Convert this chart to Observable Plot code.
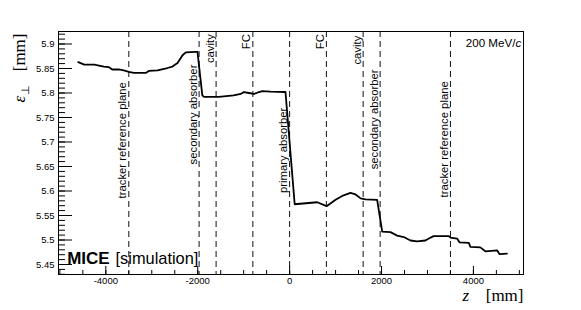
<!DOCTYPE html>
<html><head><meta charset="utf-8">
<script src="https://cdn.jsdelivr.net/npm/d3@7"></script>
<script src="https://cdn.jsdelivr.net/npm/@observablehq/plot@0.6"></script>
<style>body{margin:0;background:#fff}#chart{width:581px;height:310px}</style>
</head><body><div id="chart"></div>
<script>
// emittance along the beamline (z in mm, emittance in mm)
const zPos = [-4600,-4470,-4250,-4150,-4040,-3940,-3860,-3720,-3610,-3500,-3390,-3130,-3065,-2875,-2660,-2550,-2440,-2330,-2260,-2040,-2005,
  -1900,-1860,-1540,-1220,-1065,-995,-885,-775,-665,-595,-415,-90,
  110,600,805,1000,1145,1325,1435,1545,1650,1905,
  2015,2195,2340,2485,2630,2775,2955,3030,3135,3465,3500,3645,3700,3900,3935,4150,4260,4515,4570,4730];
const emittance = [5.863,5.858,5.858,5.856,5.854,5.853,5.848,5.848,5.846,5.843,5.841,5.841,5.845,5.846,5.851,5.854,5.861,5.877,5.883,5.884,5.884,
  5.795,5.792,5.792,5.795,5.798,5.802,5.800,5.798,5.802,5.804,5.803,5.802,
  5.573,5.577,5.569,5.582,5.590,5.596,5.593,5.585,5.583,5.582,
  5.517,5.516,5.509,5.506,5.499,5.497,5.499,5.503,5.508,5.508,5.505,5.503,5.495,5.494,5.486,5.485,5.477,5.479,5.471,5.472];

// element positions and labels
const markerZ = [-3500,-1970,-1600,-800,0,800,1600,1970,3500];
const markerLabel = ["tracker reference plane","secondary absorber","cavity","FC","primary absorber","FC","cavity","secondary absorber","tracker reference plane"];
const markerLabelTop = [5.822,5.858,5.920,5.920,5.770,5.920,5.917,5.848,5.824];

// ticks
const xMajor = [-4000,-2000,0,2000,4000];
const xMajorLabels = ["-4000","-2000","0","2000","4000"];
const xMinor = d3.range(-5000, 5001, 500);
const yMajor = [5.45,5.5,5.55,5.6,5.65,5.7,5.75,5.8,5.85,5.9];
const yMajorLabels = ["5.45","5.5","5.55","5.6","5.65","5.7","5.75","5.8","5.85","5.9"];
const yMinor = d3.range(543, 593).map(d => d / 100);

const data = zPos.map((z, i) => ({z, e: emittance[i]}));
const markers = markerZ.map((z, i) => ({z, label: markerLabel[i], top: markerLabelTop[i]}));

const W = 581, H = 310, mL = 58, mR = 58, mT = 31, mB = 36;
const pw = W - mL - mR, ph = H - mT - mB;
const serif = "Liberation Serif, Times New Roman, serif";

const chart = Plot.plot({
  width: W, height: H,
  marginLeft: mL, marginRight: mR, marginTop: mT, marginBottom: mB,
  style: {fontFamily: "Liberation Sans, Arial, Helvetica, sans-serif", background: "white", color: "black"},
  x: {domain: [-5030, 5090], axis: null},
  y: {domain: [5.4296, 5.9255], axis: null},
  marks: [
    Plot.ruleX(markers, {x: "z", stroke: "#111", strokeWidth: 1, strokeDasharray: "6,4"}),
    Plot.text(markers, {x: "z", y: "top", text: "label", rotate: -90, textAnchor: "end", lineAnchor: "middle", dx: -6, fontSize: 11.3, fill: "black"}),
    Plot.line(data, {x: "z", y: "e", stroke: "black", strokeWidth: 1.8}),
    // ticks inside the frame
    Plot.tickY(yMajor, {y: d => d, insetRight: pw - 14, stroke: "black"}),
    Plot.tickY(yMinor, {y: d => d, insetRight: pw - 7, stroke: "black"}),
    Plot.tickX(xMajor, {x: d => d, insetTop: ph - 8, stroke: "black"}),
    Plot.tickX(xMinor, {x: d => d, insetTop: ph - 4, stroke: "black"}),
    Plot.frame({stroke: "black", strokeWidth: 1}),
    // tick labels
    Plot.text(yMajor, {y: d => d, text: (d, i) => yMajorLabels[i], frameAnchor: "left", textAnchor: "end", dx: -4, fontSize: 9.5}),
    Plot.text(xMajor, {x: d => d, text: (d, i) => xMajorLabels[i], frameAnchor: "bottom", lineAnchor: "top", dy: 3, fontSize: 9.5}),
    // axis titles
    Plot.text(["[mm]"], {frameAnchor: "bottom-right", textAnchor: "end", lineAnchor: "bottom", dy: 26, fontSize: 17, fontFamily: serif}),
    Plot.text(["z"], {frameAnchor: "bottom-right", textAnchor: "start", lineAnchor: "bottom", dx: -61, dy: 26, fontSize: 17, fontFamily: serif, fontStyle: "italic"}),
    Plot.text(["[mm]"], {frameAnchor: "top-left", rotate: -90, textAnchor: "end", lineAnchor: "bottom", dx: -34, dy: 2, fontSize: 17, fontFamily: serif}),
    Plot.text(["ε"], {frameAnchor: "top-left", rotate: -90, textAnchor: "start", lineAnchor: "bottom", dx: -34, dy: 71, fontSize: 17, fontFamily: serif, fontStyle: "italic"}),
    Plot.text(["⊥"], {frameAnchor: "top-left", rotate: -90, textAnchor: "start", lineAnchor: "bottom", dx: -30, dy: 63, fontSize: 11, fontFamily: serif}),
    // annotations
    Plot.text(["MICE"], {frameAnchor: "bottom-left", textAnchor: "start", lineAnchor: "bottom", dx: 8.7, dy: -11, fontSize: 17, fontWeight: "bold"}),
    Plot.text(["[simulation]"], {frameAnchor: "bottom-left", textAnchor: "start", lineAnchor: "bottom", dx: 57, dy: -11, fontSize: 16.4}),
    Plot.text(["c"], {frameAnchor: "top-right", textAnchor: "end", lineAnchor: "bottom", dx: -2.3, dy: 15.7, fontSize: 11.6, fontStyle: "italic"}),
    Plot.text(["200 MeV/"], {frameAnchor: "top-right", textAnchor: "end", lineAnchor: "bottom", dx: -8.1, dy: 15.7, fontSize: 11.6})
  ]
});
document.getElementById("chart").appendChild(chart);
</script>
</body></html>
